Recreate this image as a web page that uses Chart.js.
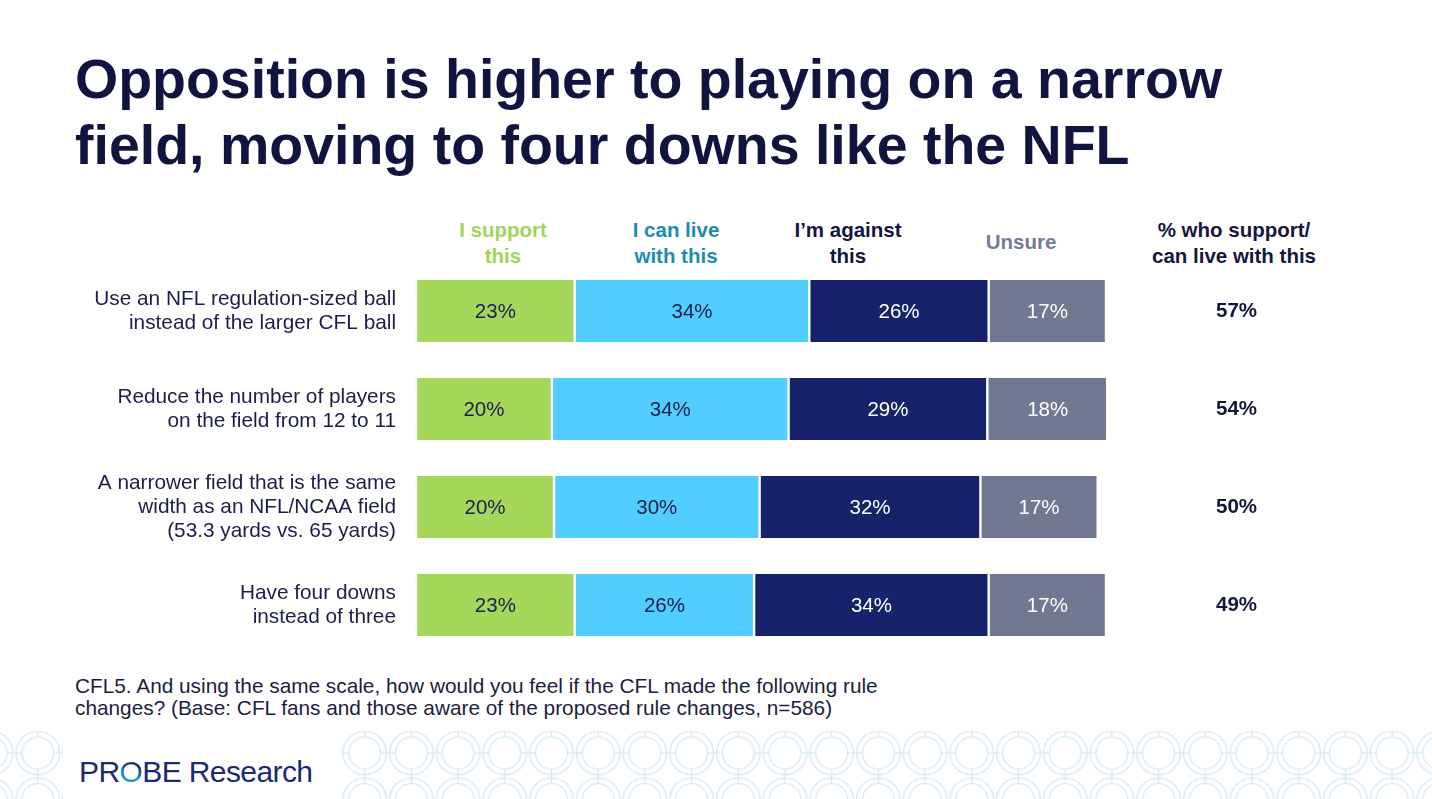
<!DOCTYPE html>
<html>
<head>
<meta charset="utf-8">
<script src="https://cdn.jsdelivr.net/npm/chart.js@4.4.1/dist/chart.umd.min.js"></script>
<style>
  html, body { margin:0; padding:0; background:#fff; }
  body { width:1432px; height:799px; position:relative; overflow:hidden; font-family:"Liberation Sans", Arial, sans-serif; }
  #title { position:absolute; left:75px; top:46px; margin:0; font-weight:bold; font-size:55.5px; line-height:66px; color:#121440; white-space:nowrap; }
  .hdr { position:absolute; font-weight:bold; font-size:20.5px; line-height:26px; text-align:center; white-space:nowrap; transform:translateX(-50%); }
  #note { position:absolute; left:75px; top:675px; font-size:20.8px; line-height:22px; color:#1c1e3c; white-space:nowrap; }
  #logo { position:absolute; left:79px; top:752px; font-size:30px; letter-spacing:-0.6px; color:#1b2a72; white-space:nowrap; line-height:40px; }
  #logo .o { background:linear-gradient(200deg,#1b2a72 0%,#1b2a72 30%,#1f8fda 60%,#1f8fda 100%); -webkit-background-clip:text; background-clip:text; color:transparent; }
  #chartWrap { position:absolute; left:0; top:262px; width:1432px; height:392px; }
  #pattern { position:absolute; left:0; top:731px; }
</style>
</head>
<body>
<svg id="pattern" width="1432" height="68" xmlns="http://www.w3.org/2000/svg">
  <defs>
    <pattern id="rings" patternUnits="userSpaceOnUse" x="14.45" y="-1.35" width="46.7" height="46.7">
      <g fill="none" stroke="#d3e8f7" stroke-width="1.3">
        <circle cx="23.35" cy="23.35" r="21.8"/>
        <circle cx="23.35" cy="23.35" r="16"/>
        <line x1="23.35" y1="0" x2="23.35" y2="7.35"/>
        <line x1="23.35" y1="39.35" x2="23.35" y2="46.7"/>
        <line x1="0" y1="23.35" x2="7.35" y2="23.35"/>
        <line x1="39.35" y1="23.35" x2="46.7" y2="23.35"/>
      </g>
    </pattern>
  </defs>
  <rect x="0" y="0" width="63" height="68" fill="url(#rings)"/>
  <rect x="342" y="0" width="1090" height="68" fill="url(#rings)"/>
</svg>

<h1 id="title">Opposition is higher to playing on a narrow<br>field, moving to four downs like the NFL</h1>

<div class="hdr" style="left:503px; top:217px; color:#a2d35a;">I support<br>this</div>
<div class="hdr" style="left:676px; top:217px; color:#1b8db3;">I can live<br>with this</div>
<div class="hdr" style="left:848px; top:217px; color:#14163f;">I’m against<br>this</div>
<div class="hdr" style="left:1021px; top:229px; color:#767b94;">Unsure</div>
<div class="hdr" style="left:1234px; top:217px; color:#14163f;">% who support/<br>can live with this</div>

<div id="chartWrap"><canvas id="c" width="1432" height="392"></canvas></div>

<div id="note">CFL5. And using the same scale, how would you feel if the CFL made the following rule<br>changes? (Base: CFL fans and those aware of the proposed rule changes, n=586)</div>

<div id="logo">PR<span class="o">O</span>BE Research</div>

<script>
// ---- data ----
const categories = [
  ["Use an NFL regulation-sized ball", "instead of the larger CFL ball"],
  ["Reduce the number of players", "on the field from 12 to 11"],
  ["A narrower field that is the same", "width as an NFL/NCAA field", "(53.3 yards vs. 65 yards)"],
  ["Have four downs", "instead of three"]
];
const seriesNames = ["I support this", "I can live with this", "I’m against this", "Unsure"];
const supportThis = [23, 19.7, 20, 23];
const canLiveWith = [34, 34.3, 29.8, 26];
const againstThis = [26, 28.8, 32, 34];
const unsure      = [17, 17.5, 17, 17];
const supportTotals = ["57%", "54%", "50%", "49%"];

const barColors   = ["#a5d85a", "#52cdff", "#16236b", "#737892"];
const labelColors = ["#1c1e4a", "#1c1e4a", "#ffffff", "#ffffff"];
const seriesValues = [supportThis, canLiveWith, againstThis, unsure];

const FONT = '"Liberation Sans", Arial, sans-serif';

const barLabels = {
  id: 'barLabels',
  afterDatasetsDraw(chart) {
    const ctx = chart.ctx;
    ctx.save();
    ctx.font = '20.5px ' + FONT;
    ctx.textAlign = 'center';
    ctx.textBaseline = 'middle';
    chart.data.datasets.forEach((ds, di) => {
      const meta = chart.getDatasetMeta(di);
      meta.data.forEach((bar, i) => {
        const v = ds.data[i];
        const x = (bar.x + bar.base) / 2;
        ctx.fillStyle = labelColors[di];
        ctx.fillText(Math.round(v) + '%', x, bar.y + 1);
      });
    });
    ctx.restore();
  }
};

new Chart(document.getElementById('c'), {
  type: 'bar',
  data: {
    labels: categories,
    datasets: seriesValues.map((vals, i) => ({
      label: seriesNames[i],
      data: vals,
      backgroundColor: barColors[i],
      borderColor: '#ffffff',
      borderWidth: {left: 1.2, right: 1.2, top: 0, bottom: 0},
      borderSkipped: false,
      categoryPercentage: 1,
      barPercentage: 0.635
    }))
  },
  options: {
    indexAxis: 'y',
    responsive: false,
    animation: false,
    layout: { padding: 0 },
    plugins: { legend: { display: false }, tooltip: { enabled: false }, title: { display: false } },
    scales: {
      x: { stacked: true, min: 0, max: 100, display: false },
      y: {
        stacked: true,
        position: 'left',
        grid: { display: false, drawTicks: false },
        border: { display: false },
        ticks: { color: '#1c1e4a', font: { family: FONT, size: 20.8, lineHeight: 1.154 }, padding: 20, crossAlign: 'near', autoSkip: false },
        afterFit(axis) { axis.width = 416; axis.paddingTop = 0; axis.paddingBottom = 0; }
      },
      y2: {
        type: 'category',
        labels: supportTotals,
        position: 'right',
        offset: true,
        grid: { display: false, drawTicks: false },
        border: { display: false },
        ticks: { color: '#14163f', font: { family: FONT, size: 20.5, weight: 'bold' }, padding: 110, crossAlign: 'center', autoSkip: false },
        afterFit(axis) { axis.width = 326; axis.paddingTop = 0; axis.paddingBottom = 0; }
      }
    }
  },
  plugins: [barLabels]
});
</script>
</body>
</html>
